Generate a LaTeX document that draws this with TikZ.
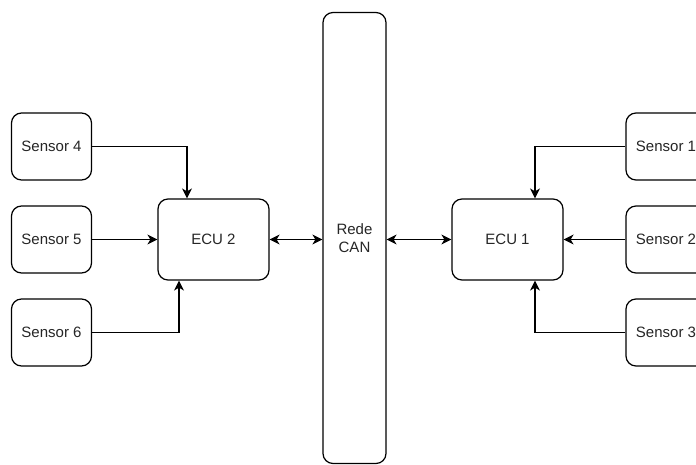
\documentclass[tikz,border=0pt]{standalone}
\usepackage{fontspec}
\setmainfont{Liberation Sans}
\usetikzlibrary{arrows.meta}
\begin{document}
\begin{tikzpicture}[x=1pt,y=-1pt,
  box/.style={draw=black,line width=1.2pt,rounded corners=10pt,fill=white,
    font=\fontsize{15}{18}\selectfont,text=black!85,align=center,inner sep=0pt},
  sensor/.style={box,minimum width=80pt,minimum height=67pt},
  ecu/.style={box,minimum width=111pt,minimum height=81pt},
  tip/.tip={Stealth[length=10pt,width=10pt,inset=3pt]},
  link/.style={line width=1.2pt,-tip},
  dlink/.style={line width=1.2pt,tip-tip}]
  \useasboundingbox[fill=white] (0,0) rectangle (696,464);
  \clip (0,0) rectangle (696,464);
  % left side
  \node[sensor] (s4) at (51.5,146.5) {Sensor 4};
  \node[sensor] (s5) at (51.5,239.5) {Sensor 5};
  \node[sensor] (s6) at (51.5,332.5) {Sensor 6};
  \node[ecu] (ecu2) at (213.5,239.5) {ECU 2};
  % bus
  \node[box,minimum width=63pt,minimum height=451pt] (can) at (354.5,238) {Rede\\CAN};
  % right side
  \node[ecu] (ecu1) at (507.5,239.5) {ECU 1};
  \node[sensor] (s1) at (666,146.5) {Sensor 1};
  \node[sensor] (s2) at (666,239.5) {Sensor 2};
  \node[sensor] (s3) at (666,332.5) {Sensor 3};
  % sensor links
  \draw[link] (s4.east) -| ([xshift=-26.5pt]ecu2.north);
  \draw[link] (s5.east) -- (ecu2.west);
  \draw[link] (s6.east) -| ([xshift=-34.5pt]ecu2.north |- ecu2.south);
  \draw[link] (s1.west) -| ([xshift=27.5pt]ecu1.north);
  \draw[link] (s2.west) -- (ecu1.east);
  \draw[link] (s3.west) -| ([xshift=27.5pt]ecu1.north |- ecu1.south);
  % bus links
  \draw[dlink] (ecu2.east) -- (can.west |- ecu2.east);
  \draw[dlink] (can.east |- ecu1.west) -- (ecu1.west);
\end{tikzpicture}
\end{document}
